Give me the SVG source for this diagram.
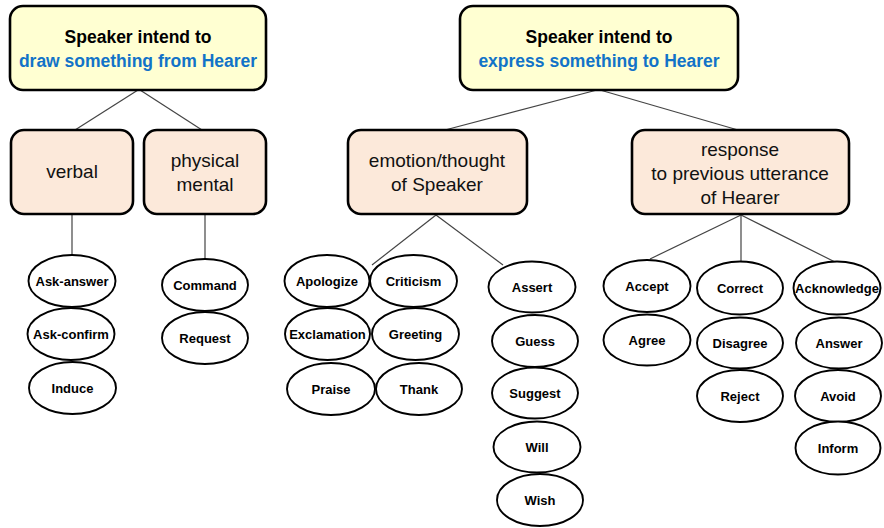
<svg xmlns="http://www.w3.org/2000/svg" width="884" height="528" viewBox="0 0 884 528">
<style>
.top{fill:#FFFFD2;stroke:#000;stroke-width:2.6}
.mid{fill:#FCE9DA;stroke:#000;stroke-width:2.6}
.el{fill:#fff;stroke:#000;stroke-width:1.9}
.tb{font-family:"Liberation Sans",Arial,sans-serif;font-weight:bold;font-size:17.5px;text-anchor:middle;fill:#000}
.blue{fill:#1273C8}
.tm{font-family:"Liberation Sans",Arial,sans-serif;font-size:19px;text-anchor:middle;fill:#111}
.te{font-family:"Liberation Sans",Arial,sans-serif;font-weight:bold;font-size:13px;text-anchor:middle;fill:#000}
.ln{stroke:#444;stroke-width:1.2;fill:none}
</style>
<g id="connectors">
<line class="ln" x1="138" y1="90" x2="75" y2="130"/>
<line class="ln" x1="140" y1="90" x2="202" y2="130"/>
<line class="ln" x1="597" y1="90" x2="445" y2="130"/>
<line class="ln" x1="600" y1="90" x2="738" y2="130"/>
<line class="ln" x1="72" y1="214" x2="72" y2="255"/>
<line class="ln" x1="205" y1="214" x2="205" y2="259"/>
<line class="ln" x1="436" y1="215" x2="372" y2="265"/>
<line class="ln" x1="436" y1="215" x2="503" y2="265"/>
<line class="ln" x1="741" y1="215" x2="650" y2="259"/>
<line class="ln" x1="741" y1="215" x2="741" y2="262"/>
<line class="ln" x1="741" y1="215" x2="837" y2="263"/>
</g>
<g id="draw">
<rect class="top" x="10" y="6" width="256" height="84" rx="13"/>
<text class="tb" x="138" y="43">Speaker intend to</text>
<text class="tb blue" x="138" y="67">draw something from Hearer</text>
</g>
<g id="express">
<rect class="top" x="460" y="6" width="278" height="84" rx="13"/>
<text class="tb" x="599" y="43">Speaker intend to</text>
<text class="tb blue" x="599" y="67">express something to Hearer</text>
</g>
<g id="verbal">
<rect class="mid" x="11" y="130" width="122" height="84" rx="13"/>
<text class="tm" x="72" y="178">verbal</text>
</g>
<g id="physical">
<rect class="mid" x="144" y="130" width="122" height="84" rx="13"/>
<text class="tm" x="205" y="167">physical</text>
<text class="tm" x="205" y="191">mental</text>
</g>
<g id="emotion">
<rect class="mid" x="348" y="130" width="179" height="84" rx="13"/>
<text class="tm" x="437" y="167">emotion/thought</text>
<text class="tm" x="437" y="191">of Speaker</text>
</g>
<g id="response">
<rect class="mid" x="632" y="130" width="217" height="84" rx="13"/>
<text class="tm" x="740" y="156">response</text>
<text class="tm" x="740" y="180">to previous utterance</text>
<text class="tm" x="740" y="204">of Hearer</text>
</g>
<g id="ask-answer"><ellipse class="el" cx="72" cy="281" rx="43.5" ry="26"/><text class="te" x="72" y="285.5">Ask-answer</text></g>
<g id="ask-confirm"><ellipse class="el" cx="71" cy="334" rx="43.5" ry="26"/><text class="te" x="71" y="338.5">Ask-confirm</text></g>
<g id="induce"><ellipse class="el" cx="72.5" cy="388" rx="43.5" ry="26"/><text class="te" x="72.5" y="392.5">Induce</text></g>
<g id="command"><ellipse class="el" cx="205" cy="285" rx="43" ry="26"/><text class="te" x="205" y="289.5">Command</text></g>
<g id="request"><ellipse class="el" cx="205" cy="338" rx="43" ry="26"/><text class="te" x="205" y="342.5">Request</text></g>
<g id="apologize"><ellipse class="el" cx="327" cy="281" rx="42.5" ry="26"/><text class="te" x="327" y="285.5">Apologize</text></g>
<g id="criticism"><ellipse class="el" cx="413.5" cy="281" rx="43.5" ry="26"/><text class="te" x="413.5" y="285.5">Criticism</text></g>
<g id="exclamation"><ellipse class="el" cx="327.5" cy="334" rx="42.5" ry="26"/><text class="te" x="327.5" y="338.5">Exclamation</text></g>
<g id="greeting"><ellipse class="el" cx="415.5" cy="334" rx="43.5" ry="26"/><text class="te" x="415.5" y="338.5">Greeting</text></g>
<g id="praise"><ellipse class="el" cx="331" cy="389" rx="44" ry="26"/><text class="te" x="331" y="393.5">Praise</text></g>
<g id="thank"><ellipse class="el" cx="419" cy="389" rx="43" ry="26"/><text class="te" x="419" y="393.5">Thank</text></g>
<g id="assert"><ellipse class="el" cx="532" cy="287" rx="43.5" ry="25.5"/><text class="te" x="532" y="291.5">Assert</text></g>
<g id="guess"><ellipse class="el" cx="535" cy="341" rx="43" ry="26"/><text class="te" x="535" y="345.5">Guess</text></g>
<g id="suggest"><ellipse class="el" cx="535" cy="393" rx="43" ry="25.5"/><text class="te" x="535" y="397.5">Suggest</text></g>
<g id="will"><ellipse class="el" cx="537" cy="447" rx="43.5" ry="25.5"/><text class="te" x="537" y="451.5">Will</text></g>
<g id="wish"><ellipse class="el" cx="540" cy="500" rx="43" ry="26"/><text class="te" x="540" y="504.5">Wish</text></g>
<g id="accept"><ellipse class="el" cx="647" cy="286" rx="43.5" ry="26"/><text class="te" x="647" y="290.5">Accept</text></g>
<g id="agree"><ellipse class="el" cx="647" cy="340" rx="43.5" ry="25.5"/><text class="te" x="647" y="344.5">Agree</text></g>
<g id="correct"><ellipse class="el" cx="740" cy="288" rx="43" ry="26.5"/><text class="te" x="740" y="292.5">Correct</text></g>
<g id="disagree"><ellipse class="el" cx="740" cy="343" rx="43" ry="25.5"/><text class="te" x="740" y="347.5">Disagree</text></g>
<g id="reject"><ellipse class="el" cx="740" cy="396" rx="43" ry="26"/><text class="te" x="740" y="400.5">Reject</text></g>
<g id="acknowledge"><ellipse class="el" cx="837" cy="288" rx="43.5" ry="26.5"/><text class="te" x="837" y="292.5">Acknowledge</text></g>
<g id="answer"><ellipse class="el" cx="839" cy="343" rx="43" ry="25.5"/><text class="te" x="839" y="347.5">Answer</text></g>
<g id="avoid"><ellipse class="el" cx="838" cy="396" rx="43" ry="26"/><text class="te" x="838" y="400.5">Avoid</text></g>
<g id="inform"><ellipse class="el" cx="838" cy="448" rx="42.5" ry="26.5"/><text class="te" x="838" y="452.5">Inform</text></g>
</svg>
